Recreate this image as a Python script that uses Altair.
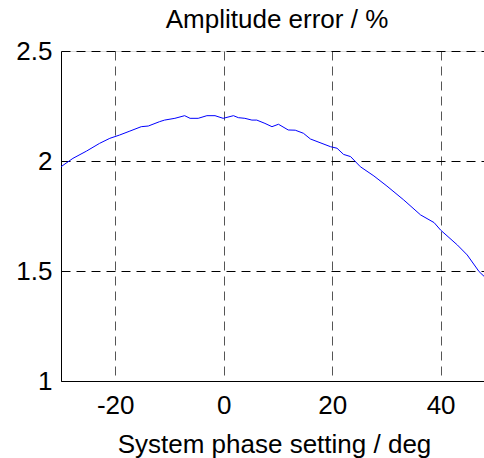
import altair as alt
import pandas as pd

phase_deg = [-30.0, -27.8, -25.3, -22.9, -21.0, -19.2, -17.3, -15.2, -13.9, -11.8,
             -10.9, -9.0, -7.2, -6.2, -4.7, -3.1, -1.6, -0.1, 1.8, 2.7,
             3.9, 5.2, 6.1, 7.6, 8.9, 10.1, 11.9, 13.2, 14.7, 16.0,
             19.7, 20.9, 22.1, 23.4, 25.2, 27.7, 30.1, 33.2, 36.3, 38.8,
             40.0, 43.1, 44.9, 47.1, 48.0]
amp_error = [1.974, 2.012, 2.045, 2.080, 2.103, 2.118, 2.136, 2.156, 2.159, 2.179,
             2.186, 2.194, 2.206, 2.194, 2.194, 2.206, 2.206, 2.194, 2.206, 2.197,
             2.194, 2.186, 2.186, 2.171, 2.156, 2.167, 2.141, 2.140, 2.126, 2.100,
             2.065, 2.058, 2.030, 2.020, 1.974, 1.932, 1.886, 1.823, 1.755, 1.720,
             1.686, 1.618, 1.573, 1.497, 1.476]
x_ticks = [-20, 0, 20, 40]
y_ticks = [1, 1.5, 2, 2.5]
chart_title = "Amplitude error / %"

df = pd.DataFrame({"phase": phase_deg, "err": amp_error})
FONT = "Liberation Sans"

line = alt.Chart(df).mark_line(color="#0000ff", strokeWidth=1, clip=True).encode(
    x=alt.X("phase:Q",
            scale=alt.Scale(domain=[-30, 48], nice=False, zero=False),
            axis=alt.Axis(values=x_ticks, title="System phase setting / deg",
                          labelExpr="'' + datum.value",
                          grid=True, gridColor="#555555", gridDash=[9, 6], gridWidth=1,
                          ticks=False, domainColor="#000000", domainWidth=1,
                          labelFont=FONT, labelFontSize=26, labelColor="#000000",
                          labelBaseline="alphabetic", labelPadding=32, labelFlush=False,
                          titleFont=FONT, titleFontSize=26, titleFontWeight="normal",
                          titleColor="#000000", titleBaseline="alphabetic",
                          titleY=71, titleX=213, titleAnchor="middle")),
    y=alt.Y("err:Q",
            scale=alt.Scale(domain=[1, 2.5], nice=False, zero=False),
            axis=alt.Axis(values=y_ticks, title=None, format="~g",
                          grid=True, gridColor="#000000", gridDash=[9, 6], gridWidth=1,
                          ticks=False, domainColor="#000000", domainWidth=1,
                          labelFont=FONT, labelFontSize=26, labelColor="#000000",
                          labelPadding=9, labelFlush=False)),
)

title = alt.Chart(pd.DataFrame({"t": [chart_title]})).mark_text(
    font=FONT, fontSize=26, color="#000000", align="center", baseline="alphabetic"
).encode(text="t:N", x=alt.value(216), y=alt.value(-23))

chart = alt.layer(line, title).properties(
    width=423, height=330,
    autosize=alt.AutoSizeParams(type="none"),
    padding={"left": 61, "top": 51, "right": 0, "bottom": 77},
).configure_view(stroke="#000000", strokeWidth=1).configure(background="white")

chart.save("out.html", embed_options={"renderer": "svg", "actions": False})
